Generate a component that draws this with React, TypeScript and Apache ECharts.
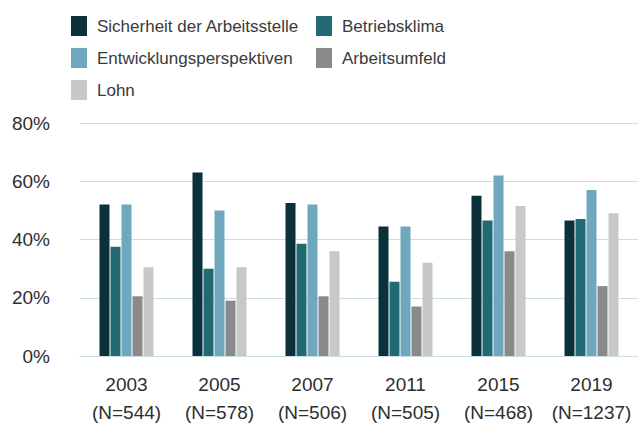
import React, { useEffect, useRef } from "react";
import * as echarts from "echarts";

const years = ["2003", "2005", "2007", "2011", "2015", "2019"];
const sampleSizes = ["544", "578", "506", "505", "468", "1237"];
const seriesNames = [
  "Sicherheit der Arbeitsstelle",
  "Betriebsklima",
  "Entwicklungsperspektiven",
  "Arbeitsumfeld",
  "Lohn",
];
const sicherheit = [52, 63, 52.5, 44.5, 55, 46.5];
const betriebsklima = [37.5, 30, 38.5, 25.5, 46.5, 47];
const entwicklung = [52, 50, 52, 44.5, 62, 57];
const arbeitsumfeld = [20.5, 19, 20.5, 17, 36, 24];
const lohn = [30.5, 30.5, 36, 32, 51.5, 49];
const yTicks = [0, 20, 40, 60, 80];

const colors = ["#0b313a", "#236974", "#6ea7be", "#8a8a8a", "#c8c8c8"];
const FONT = "'Liberation Sans', Arial, sans-serif";

export default function App() {
  const ref = useRef<HTMLDivElement>(null);
  useEffect(() => {
    if (!ref.current) return;
    const chart = echarts.init(ref.current, null, { renderer: "svg" });
    const values = [sicherheit, betriebsklima, entwicklung, arbeitsumfeld, lohn];
    const legendText = {
      fontFamily: FONT,
      fontSize: 17,
      color: "#3a3a3a",
      padding: [0, 0, 0, 5],
    };
    chart.setOption({
      animation: false,
      color: colors,
      textStyle: { fontFamily: FONT },
      legend: [
        {
          orient: "vertical",
          left: 66,
          top: 11,
          itemWidth: 16,
          itemHeight: 20,
          itemGap: 12,
          icon: "rect",
          selectedMode: false,
          data: [seriesNames[0], seriesNames[2], seriesNames[4]],
          textStyle: legendText,
        },
        {
          orient: "vertical",
          left: 311,
          top: 11,
          itemWidth: 16,
          itemHeight: 20,
          itemGap: 12,
          icon: "rect",
          selectedMode: false,
          data: [seriesNames[1], seriesNames[3]],
          textStyle: legendText,
        },
      ],
      grid: { left: 80, right: -3, top: 123, bottom: 67, containLabel: false },
      xAxis: {
        type: "category",
        data: years.map((y, i) => `${y}\n(N=${sampleSizes[i]})`),
        axisLine: { show: true, lineStyle: { color: "#c9dfe2", width: 1 } },
        axisTick: { show: false },
        axisLabel: {
          fontFamily: FONT,
          fontSize: 19,
          color: "#2e2e2e",
          lineHeight: 28,
          margin: 14,
          interval: 0,
        },
      },
      yAxis: {
        type: "value",
        min: yTicks[0],
        max: yTicks[yTicks.length - 1],
        interval: 20,
        axisLine: { show: false },
        axisTick: { show: false },
        splitLine: { lineStyle: { color: "#c9dfe2", width: 1 } },
        axisLabel: {
          fontFamily: FONT,
          fontSize: 19,
          color: "#2e2e2e",
          margin: 30,
          formatter: "{value}%",
        },
      },
      series: seriesNames.map((name, i) => ({
        name,
        type: "bar",
        data: values[i],
        barWidth: 10,
        barGap: "10%",
        itemStyle: { color: colors[i] },
      })),
    });
    return () => chart.dispose();
  }, []);
  return (
    <div
      ref={ref}
      style={{ position: "fixed", left: 0, top: 0, width: 638, height: 426, background: "#fff" }}
    />
  );
}
